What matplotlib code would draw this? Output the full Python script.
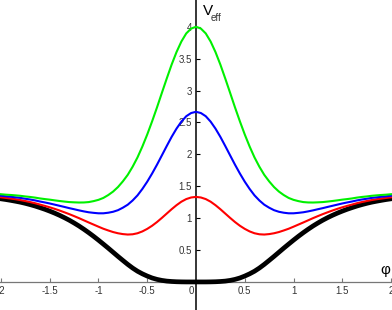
import numpy as np
import matplotlib
matplotlib.use('Agg')
import matplotlib.pyplot as plt

# read-off points for phi >= 0; every curve is symmetric in phi
phi_half = [0.0, 0.05, 0.1, 0.15, 0.2, 0.25, 0.3, 0.35, 0.4, 0.45, 0.5,
            0.55, 0.6, 0.65, 0.7, 0.75, 0.8, 0.85, 0.9, 0.95, 1.0,
            1.05, 1.1, 1.15, 1.2, 1.25, 1.3, 1.35, 1.4, 1.45, 1.5,
            1.55, 1.6, 1.65, 1.7, 1.75, 1.8, 1.85, 1.9, 1.95, 2.0]

black_half = [0.0, 0.0, 0.0, 0.001, 0.003, 0.007, 0.013, 0.024, 0.040, 0.062, 0.092,
              0.127, 0.168, 0.218, 0.275, 0.337, 0.400, 0.465, 0.530, 0.593, 0.655,
              0.715, 0.772, 0.826, 0.877, 0.924, 0.968, 1.008, 1.045, 1.079, 1.110,
              1.139, 1.165, 1.190, 1.212, 1.232, 1.250, 1.265, 1.279, 1.292, 1.303]
red_half = [1.333, 1.324, 1.299, 1.258, 1.203, 1.140, 1.072, 1.004, 0.939, 0.881, 0.832,
            0.792, 0.763, 0.747, 0.743, 0.750, 0.763, 0.782, 0.807, 0.834, 0.866,
            0.899, 0.932, 0.966, 1.000, 1.032, 1.063, 1.092, 1.120, 1.146, 1.170,
            1.192, 1.213, 1.234, 1.252, 1.268, 1.283, 1.296, 1.307, 1.317, 1.327]
blue_half = [2.667, 2.648, 2.598, 2.513, 2.403, 2.274, 2.131, 1.984, 1.838, 1.700, 1.572,
             1.458, 1.357, 1.277, 1.211, 1.164, 1.125, 1.100, 1.085, 1.076, 1.076,
             1.083, 1.092, 1.106, 1.122, 1.140, 1.157, 1.176, 1.194, 1.212, 1.230,
             1.246, 1.261, 1.278, 1.292, 1.304, 1.317, 1.326, 1.335, 1.343, 1.351]
green_half = [4.000, 3.972, 3.896, 3.769, 3.603, 3.407, 3.189, 2.964, 2.736, 2.518, 2.312,
              2.123, 1.952, 1.806, 1.679, 1.577, 1.488, 1.417, 1.362, 1.317, 1.287,
              1.267, 1.252, 1.246, 1.245, 1.248, 1.252, 1.260, 1.269, 1.279, 1.290,
              1.299, 1.309, 1.322, 1.332, 1.340, 1.350, 1.357, 1.363, 1.368, 1.375]

x_ticks = [-2, -1.5, -1, -0.5, 0.5, 1, 1.5, 2]
x_labels = ['-2', '-1.5', '-1', '-0.5', '0.5', '1', '1.5', '2']
y_ticks = [0.5, 1, 1.5, 2, 2.5, 3, 3.5, 4]
y_labels = ['0.5', '1', '1.5', '2', '2.5', '3', '3.5', '4']


def mirror(vals, neg=False):
    # build the full curve from the phi >= 0 half
    left = [-v for v in vals[:0:-1]] if neg else list(vals[:0:-1])
    return left + list(vals)


phi = mirror(phi_half, neg=True)

plt.rcParams['font.family'] = ['Liberation Sans', 'DejaVu Sans']

W, H = 392, 310
fig = plt.figure(figsize=(W / 100, H / 100), dpi=100)
ax = fig.add_axes([0, 0, 1, 1])

ax.plot(phi, mirror(black_half), color='black', lw=3.4, zorder=3)
ax.plot(phi, mirror(red_half), color='#ff0000', lw=1.5, zorder=4)
ax.plot(phi, mirror(blue_half), color='#0000ff', lw=1.5, zorder=4)
ax.plot(phi, mirror(green_half), color='#00f000', lw=1.5, zorder=4)

ax.set_xlim(-2.01, 2.01)
ax.set_ylim(-0.44, 4.42)

# axes through the origin, Mathematica style
for side in ['top', 'right']:
    ax.spines[side].set_visible(False)
ax.spines['left'].set_position(('data', 0))
ax.spines['bottom'].set_position(('data', 0))
ax.spines['left'].set_color('black')
ax.spines['left'].set_linewidth(1.1)
ax.spines['bottom'].set_color('#777777')
ax.spines['bottom'].set_linewidth(0.9)
ax.patch.set_visible(False)

ax.set_xticks(x_ticks)
ax.set_xticklabels(x_labels)
ax.set_yticks(y_ticks)
ax.set_yticklabels(y_labels)
ax.tick_params(axis='x', direction='in', length=3, width=0.8, color='#777777',
               labelsize=7, labelcolor='#333333', pad=3)
ax.tick_params(axis='y', direction='in', length=3, width=0.8, color='black',
               labelsize=7, labelcolor='#333333', pad=3)

# origin label and axis titles
ax.text(191 / W, 1 - 291.5 / H, '0', transform=ax.transAxes, ha='center',
        va='center', fontsize=7, color='#333333')
ax.text(203 / W, 1 - 4 / H, 'V', transform=ax.transAxes, ha='left',
        va='top', fontsize=11, color='black')
ax.text(211 / W, 1 - 21 / H, 'eff', transform=ax.transAxes, ha='left',
        va='baseline', fontsize=7, color='#333333')
ax.text(385.5 / W, 1 - 270 / H, 'φ', transform=ax.transAxes, ha='center',
        va='center', fontsize=11, color='black')

fig.savefig('out.png', dpi=100)
